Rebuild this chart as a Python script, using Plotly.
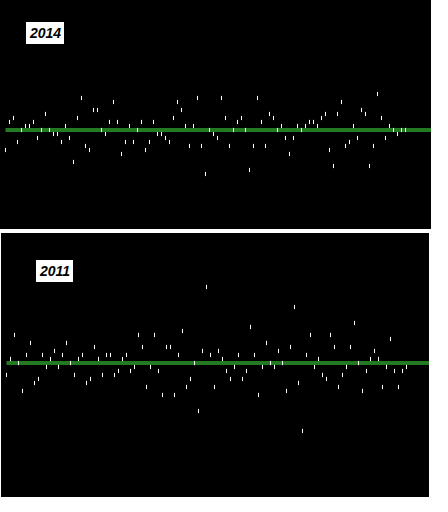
import plotly.graph_objects as go

# Panel values (integer deviations from the green baseline), 101 points each
values_2014 = [-5, 2, 3, -3, 0, 1, 1, 2, -2, 0,
               4, 0, -1, -1, -3, 1, -2, -8, 3, 8,
               -4, -5, 5, 5, 0, -1, 2, 7, 2, -6,
               -3, 1, -3, 0, 2, -5, -3, 2, -1, -1,
               -2, -3, 3, 7, 5, 1, -4, 1, 8, -4,
               -11, 0, -1, -2, 8, 3, -4, 0, 2, 3,
               0, -10, -4, 8, 2, -4, 4, 3, 0, 1,
               -2, -6, -2, 1, 0, 1, 2, 2, 1, 3,
               4, -5, -9, 4, 7, -4, -3, 1, -2, 5,
               4, -9, -4, 9, 3, -2, 1, 0, -1, 0, 0]

values_2011 = [-3, 1, 7, 0, -7, 2, 5, -5, -4, 2,
               -1, 1, 3, -1, 2, 5, 0, -3, 1, 2,
               -5, -4, 4, 1, -3, 2, 2, -3, -2, 1,
               2, -2, -1, 7, 4, -6, -1, 7, -2, -8,
               4, 4, -8, 2, 8, -6, -4, 0, -12, 3,
               19, 2, -6, 3, 1, -2, -4, -1, 2, -4,
               -2, 9, 2, -8, -1, 5, 0, -1, 3, 0,
               -7, 4, 14, -5, -17, 2, 7, -1, 1, -3,
               -4, 7, 4, -6, -3, -1, 4, 10, 0, -7,
               -2, 1, 3, 1, -6, -1, 6, -2, -6, -2, -1]

baseline_x = [0, 110]
baseline_y = [0, 0]
labels = ["2014", "2011"]

W, H = 448, 512
GREEN = "rgb(34,122,34)"

fig = go.Figure()

idx14 = list(range(len(values_2014)))
idx11 = list(range(len(values_2011)))

# Panel 1 (2014)
fig.add_trace(go.Scatter(x=baseline_x, y=baseline_y, mode="lines",
                         line=dict(color=GREEN, width=4), xaxis="x", yaxis="y",
                         hoverinfo="skip", showlegend=False))
fig.add_trace(go.Scatter(x=idx14, y=values_2014, mode="markers",
                         marker=dict(symbol="line-ns", size=3,
                                     line=dict(color="white", width=1)),
                         xaxis="x", yaxis="y", showlegend=False))
# Panel 2 (2011)
fig.add_trace(go.Scatter(x=baseline_x, y=baseline_y, mode="lines",
                         line=dict(color=GREEN, width=4), xaxis="x2", yaxis="y2",
                         hoverinfo="skip", showlegend=False))
fig.add_trace(go.Scatter(x=idx11, y=values_2011, mode="markers",
                         marker=dict(symbol="line-ns", size=3,
                                     line=dict(color="white", width=1)),
                         xaxis="x2", yaxis="y2", showlegend=False))

ax_common = dict(visible=False, showgrid=False, zeroline=False, fixedrange=True)

# Panel 1: x pixels 0..431, y pixels 0..229 ; 4 px per unit
fig.update_layout(
    xaxis=dict(domain=[0, 431 / W], range=[-5.5 / 4, -5.5 / 4 + 431 / 4], anchor="y", **ax_common),
    yaxis=dict(domain=[(H - 229) / H, 1], range=[32.5 - 229 / 4, 32.5], anchor="x", **ax_common),
    xaxis2=dict(domain=[1 / W, 429 / W], range=[-5.5 / 4 + 0.0, -5.5 / 4 + 428 / 4], anchor="y2", **ax_common),
    yaxis2=dict(domain=[(H - 497) / H, (H - 233) / H], range=[32.5 - 264 / 4, 32.5], anchor="x2", **ax_common),
)

fig.add_annotation(text="<b><i>" + labels[0] + "</i></b>", xref="paper", yref="paper",
                   x=26 / W, y=1 - 22 / H, xanchor="left", yanchor="top", showarrow=False,
                   font=dict(family="Liberation Sans, Arial, sans-serif", size=14, color="black"),
                   bgcolor="white", bordercolor="white", borderwidth=1, borderpad=2)
fig.add_annotation(text="<b><i>" + labels[1] + "</i></b>", xref="paper", yref="paper",
                   x=36 / W, y=1 - 260 / H, xanchor="left", yanchor="top", showarrow=False,
                   font=dict(family="Liberation Sans, Arial, sans-serif", size=14, color="black"),
                   bgcolor="white", bordercolor="white", borderwidth=1, borderpad=2)

fig.update_layout(width=W, height=H, margin=dict(l=0, r=0, t=0, b=0),
                  paper_bgcolor="white", plot_bgcolor="black", showlegend=False)

fig.write_html("out.html", config={"displayModeBar": False})
